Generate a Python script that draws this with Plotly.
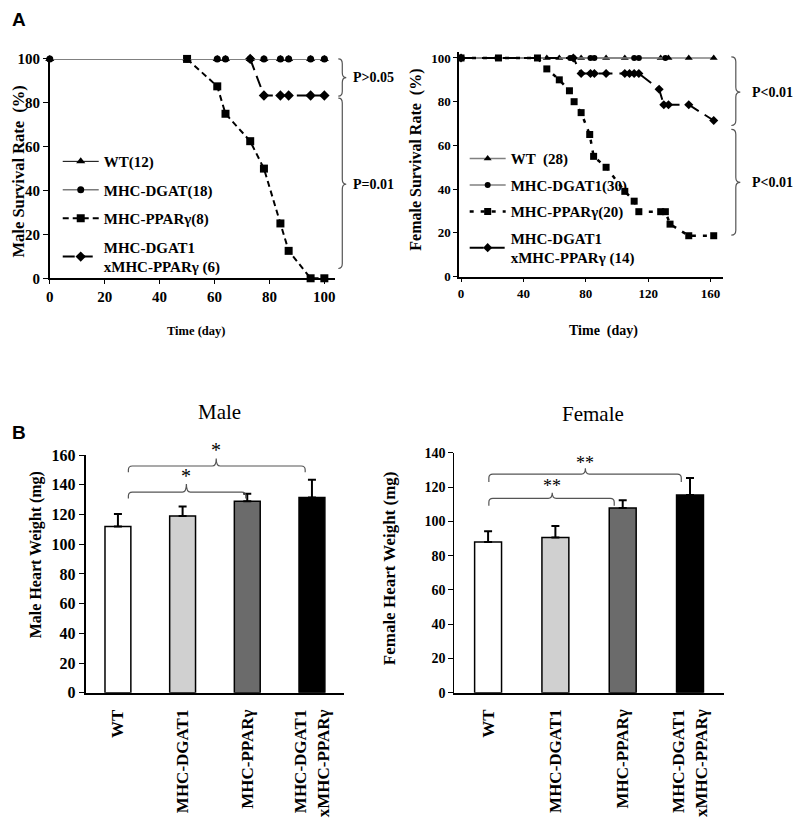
import plotly.graph_objects as go

# ---------------- DATA ----------------
# Panel A, male survival (%)
male_wt_days = [0, 50, 61, 64, 73, 78, 84, 87, 95, 100]
male_wt_surv = [100, 100, 100, 100, 100, 100, 100, 100, 100, 100]
male_dgat_days = [0, 50, 61, 64, 73, 78, 84, 87, 95, 100]
male_dgat_surv = [100, 100, 100, 100, 100, 100, 100, 100, 100, 100]
male_ppar_days = [50, 61, 64, 73, 78, 84, 87, 95, 100]
male_ppar_surv = [100, 87.5, 75, 62.5, 50, 25, 12.5, 0, 0]
male_dbl_days = [73, 78, 84, 87, 95, 100]
male_dbl_surv = [100, 83.3, 83.3, 83.3, 83.3, 83.3]

# Panel A, female survival (%)
fem_wt_days = [0, 55, 63, 77, 93, 105, 128, 133, 146, 162]
fem_wt_surv = [100, 100, 100, 100, 100, 100, 100, 100, 100, 100]
fem_dgat_days = [0, 70, 72, 83, 85.5, 111, 114, 131]
fem_dgat_surv = [100, 100, 100, 100, 100, 100, 100, 100]
fem_ppar_days = [0, 24, 49, 55, 63, 69.5, 72.5, 77, 82.5, 85, 93, 105, 111, 114, 128, 131, 134, 146, 162]
fem_ppar_surv = [100, 100, 100, 95, 90, 85, 80, 75, 65, 55, 50, 39, 34.5, 29.7, 29.7, 29.7, 24, 18.7, 18.7]
fem_dbl_days = [0, 72, 77, 83, 85.5, 93, 105, 108, 111, 114, 127, 130, 133, 146, 162]
fem_dbl_surv = [100, 100, 92.9, 92.9, 92.9, 92.9, 92.9, 92.9, 92.9, 92.9, 85.7, 78.6, 78.6, 78.6, 71.4]

# Legend names
male_names = ["WT(12)", "MHC-DGAT(18)", "MHC-PPARγ(8)", "MHC-DGAT1<br>xMHC-PPARγ (6)"]
fem_names = ["WT  (28)", "MHC-DGAT1(30)", "MHC-PPARγ(20)", "MHC-DGAT1<br>xMHC-PPARγ (14)"]

# Panel B, heart weight (mg)
groups = ["WT", "MHC-DGAT1", "MHC-PPARγ", "MHC-DGAT1<br>xMHC-PPARγ"]
male_hw = [112, 119, 129, 131.5]
male_hw_err = [8.3, 6.5, 5, 12]
fem_hw = [88, 90.6, 107.8, 115.4]
fem_hw_err = [6.3, 6.7, 4.6, 10]

surv_x_ticks_m = [0, 20, 40, 60, 80, 100]
surv_x_ticks_f = [0, 40, 80, 120, 160]
surv_y_ticks = [0, 20, 40, 60, 80, 100]

# ---------------- LAYOUT HELPERS ----------------
W, H = 797, 820
SERIF = "Liberation Serif"


def fx(x):
    return x / W


def fy(y):
    return 1 - y / H


def vbrace(x, ytop, ybot, ytip, w):
    """Vertical curly brace '}' in pixel coords -> paper path."""
    r = min(5, (ybot - ytop) / 6)
    m = x + w / 2
    pts = [
        f"M{fx(x)},{fy(ytop)}",
        f"Q{fx(m)},{fy(ytop)} {fx(m)},{fy(ytop + r)}",
        f"L{fx(m)},{fy(ytip - r)}",
        f"Q{fx(m)},{fy(ytip)} {fx(x + w)},{fy(ytip)}",
        f"Q{fx(m)},{fy(ytip)} {fx(m)},{fy(ytip + r)}",
        f"L{fx(m)},{fy(ybot - r)}",
        f"Q{fx(m)},{fy(ybot)} {fx(x)},{fy(ybot)}",
    ]
    return " ".join(pts)


def hbrace(x1, x2, y, yend, xm, ytip):
    """Horizontal bracket with upward tip, pixel coords -> paper path."""
    r = 4
    pts = [
        f"M{fx(x1)},{fy(yend)}",
        f"L{fx(x1)},{fy(y + r)}",
        f"Q{fx(x1)},{fy(y)} {fx(x1 + r)},{fy(y)}",
        f"L{fx(xm - r)},{fy(y)}",
        f"Q{fx(xm)},{fy(y)} {fx(xm)},{fy(ytip)}",
        f"Q{fx(xm)},{fy(y)} {fx(xm + r)},{fy(y)}",
        f"L{fx(x2 - r)},{fy(y)}",
        f"Q{fx(x2)},{fy(y)} {fx(x2)},{fy(y + r)}",
        f"L{fx(x2)},{fy(yend)}",
    ]
    return " ".join(pts)


fig = go.Figure()

# ---------------- MALE SURVIVAL ----------------
fig.add_trace(go.Scatter(
    x=male_ppar_days, y=male_ppar_surv, name=male_names[2], mode="lines+markers",
    line=dict(color="black", width=2, dash="6px,4px"),
    marker=dict(symbol="square", size=8, color="black"),
    xaxis="x", yaxis="y", legend="legend", legendrank=3, legendgroup="m3", cliponaxis=False))
fig.add_trace(go.Scatter(
    x=male_dbl_days, y=male_dbl_surv, name=male_names[3], mode="lines+markers",
    line=dict(color="black", width=2, dash="12px,6px"),
    marker=dict(symbol="diamond", size=8, color="black"),
    xaxis="x", yaxis="y", legend="legend", legendrank=4, legendgroup="m4", cliponaxis=False))
fig.add_trace(go.Scatter(
    x=male_wt_days, y=male_wt_surv, name=male_names[0], mode="lines+markers",
    line=dict(color="black", width=1),
    marker=dict(symbol="triangle-up", size=8, color="black"),
    xaxis="x", yaxis="y", legend="legend", legendrank=1, legendgroup="m1", cliponaxis=False))
fig.add_trace(go.Scatter(
    x=male_dgat_days, y=male_dgat_surv, name=male_names[1], mode="lines+markers",
    line=dict(color="#7a7a7a", width=1.5),
    marker=dict(symbol="circle", size=7, color="black"),
    xaxis="x", yaxis="y", legend="legend", legendrank=2, legendgroup="m2", cliponaxis=False))

# ---------------- FEMALE SURVIVAL ----------------
fig.add_trace(go.Scatter(
    x=fem_wt_days, y=fem_wt_surv, name=fem_names[0], mode="lines+markers",
    line=dict(color="#808080", width=1.5),
    marker=dict(symbol="triangle-up", size=7, color="black"),
    xaxis="x2", yaxis="y2", legend="legend2", legendrank=1, legendgroup="f1", cliponaxis=False))
fig.add_trace(go.Scatter(
    x=fem_dgat_days, y=fem_dgat_surv, name=fem_names[1], mode="lines+markers",
    line=dict(color="#808080", width=1.5),
    marker=dict(symbol="circle", size=6, color="black"),
    xaxis="x2", yaxis="y2", legend="legend2", legendrank=2, legendgroup="f2", cliponaxis=False))
fig.add_trace(go.Scatter(
    x=fem_ppar_days, y=fem_ppar_surv, name=fem_names[2], mode="lines+markers",
    line=dict(color="black", width=2.5, dash="4px,7px"),
    marker=dict(symbol="square", size=7, color="black"),
    xaxis="x2", yaxis="y2", legend="legend2", legendrank=3, legendgroup="f3", cliponaxis=False))
fig.add_trace(go.Scatter(
    x=fem_dbl_days, y=fem_dbl_surv, name=fem_names[3], mode="lines+markers",
    line=dict(color="black", width=2, dash="14px,7px"),
    marker=dict(symbol="diamond", size=7, color="black"),
    xaxis="x2", yaxis="y2", legend="legend2", legendrank=4, legendgroup="f4", cliponaxis=False))

# ---------------- BAR CHARTS ----------------
bar_colors = ["white", "#d0d0d0", "#6b6b6b", "black"]
fig.add_trace(go.Bar(
    x=groups, y=male_hw, marker=dict(color=bar_colors, line=dict(color="black", width=1.5)),
    error_y=dict(type="data", array=male_hw_err, arrayminus=[0] * 4, symmetric=False,
                 color="black", thickness=2, width=4),
    xaxis="x3", yaxis="y3", showlegend=False))
fig.add_trace(go.Bar(
    x=groups, y=fem_hw, marker=dict(color=bar_colors, line=dict(color="black", width=1.5)),
    error_y=dict(type="data", array=fem_hw_err, arrayminus=[0] * 4, symmetric=False,
                 color="black", thickness=2, width=4),
    xaxis="x4", yaxis="y4", showlegend=False))

axis_common = dict(showgrid=False, zeroline=False, showline=True, linecolor="black",
                   ticks="outside", tickcolor="black", mirror=False)

fig.update_layout(
    width=W, height=H, margin=dict(l=0, r=0, t=0, b=0),
    paper_bgcolor="white", plot_bgcolor="white",
    bargap=0.6,
    xaxis=dict(domain=[fx(46), fx(333)], range=[0, 104], tickvals=surv_x_ticks_m,
               linewidth=1.5, ticklen=4, anchor="y",
               tickfont=dict(family=SERIF, size=15, color="black", weight="bold"), **axis_common),
    yaxis=dict(domain=[fy(276), fy(52)], range=[0, 100], tickvals=surv_y_ticks,
               linewidth=1.5, ticklen=5, anchor="x",
               tickfont=dict(family=SERIF, size=15, color="black", weight="bold"), **axis_common),
    xaxis2=dict(domain=[fx(457.3), fx(722.7)], range=[-1.3, 168], tickvals=surv_x_ticks_f,
                linewidth=1.5, ticklen=4, anchor="y2",
                tickfont=dict(family=SERIF, size=13, color="black", weight="bold"), **axis_common),
    yaxis2=dict(domain=[fy(274.3), fy(45)], range=[0, 102.7], tickvals=surv_y_ticks,
                linewidth=1.5, ticklen=4, anchor="x2",
                tickfont=dict(family=SERIF, size=13, color="black", weight="bold"), **axis_common),
    xaxis3=dict(domain=[fx(82), fx(342)], range=[-0.5, 3.5], anchor="y3",
                showgrid=False, zeroline=False, showline=True, linecolor="black", linewidth=2,
                ticks="", tickangle=-90, ticklabelstandoff=8,
                tickfont=dict(family=SERIF, size=17, color="black", weight="bold")),
    yaxis3=dict(domain=[fy(699.3), fy(456.6)], range=[0, 160], dtick=20, anchor="x3",
                linewidth=2, ticklen=5,
                tickfont=dict(family=SERIF, size=16, color="black", weight="bold"), **axis_common),
    xaxis4=dict(domain=[fx(452.7), fx(723.3)], range=[-0.5, 3.5], anchor="y4",
                showgrid=False, zeroline=False, showline=True, linecolor="black", linewidth=1.5,
                ticks="", tickangle=-90, ticklabelstandoff=8,
                tickfont=dict(family=SERIF, size=17, color="black", weight="bold")),
    yaxis4=dict(domain=[fy(699.3), fy(454.3)], range=[0, 140], dtick=20, anchor="x4",
                linewidth=1.2, ticklen=5,
                tickfont=dict(family=SERIF, size=14, color="black", weight="bold"), **axis_common),
    legend=dict(x=fx(54), y=fy(140), xanchor="left", yanchor="top", bgcolor="rgba(0,0,0,0)",
                tracegroupgap=6, traceorder="grouped", itemwidth=36,
                font=dict(family=SERIF, size=15, color="black", weight="bold")),
    legend2=dict(x=fx(463), y=fy(137), xanchor="left", yanchor="top", bgcolor="rgba(0,0,0,0)",
                 tracegroupgap=4, traceorder="grouped", itemwidth=36,
                 font=dict(family=SERIF, size=15, color="black", weight="bold")),
)

# ---------------- ANNOTATIONS ----------------
def ann(text, x, y, size, family=SERIF, bold=True, angle=0, color="black"):
    fig.add_annotation(text=f"<b>{text}</b>" if bold else text, x=fx(x), y=fy(y),
                       xref="paper", yref="paper", showarrow=False, textangle=angle,
                       xanchor="center", yanchor="middle",
                       font=dict(family=family, size=size, color=color))


ann("A", 15, 12, 19, family="Liberation Sans")
ann("B", 15, 433, 19, family="Liberation Sans")
ann("Male Survival Rate  (%)", 15, 167, 16.5, angle=-90)
ann("Female Survival Rate  (%)", 414, 155, 16, angle=-90)
ann("Time (day)", 193, 330, 12.5)
ann("Time  (day)", 603, 330, 14)
ann("P&gt;0.05", 371, 71, 14)
ann("P=0.01", 371, 180, 14)
ann("P&lt;0.01", 772, 86, 14)
ann("P&lt;0.01", 772, 178, 14)
ann("Male", 217, 413, 21, bold=False)
ann("Female", 592, 415, 21, bold=False)
ann("Male Heart Weight (mg)", 33, 558, 16, angle=-90)
ann("Female Heart Weight (mg)", 387, 572, 17, angle=-90)
ann("*", 183, 478, 20, bold=False)
ann("*", 213, 451, 20, bold=False)
ann("**", 551, 488, 18, bold=False)
ann("**", 584, 465, 18, bold=False)

brace_style = dict(color="#555555", width=1.2)
shapes = [
    dict(type="path", xref="paper", yref="paper", path=vbrace(336, 52, 90, 71, 8), line=brace_style),
    dict(type="path", xref="paper", yref="paper", path=vbrace(336, 92, 266, 180, 8), line=brace_style),
    dict(type="path", xref="paper", yref="paper", path=vbrace(731, 50, 120, 86, 9), line=brace_style),
    dict(type="path", xref="paper", yref="paper", path=vbrace(731, 124, 232, 178, 9), line=brace_style),
    dict(type="path", xref="paper", yref="paper", path=hbrace(125, 243, 494.3, 501, 183.3, 486), line=brace_style),
    dict(type="path", xref="paper", yref="paper", path=hbrace(125, 302.7, 467.7, 474, 213.3, 460), line=brace_style),
    dict(type="path", xref="paper", yref="paper", path=hbrace(487.3, 613.3, 500.7, 508.3, 551, 495), line=brace_style),
    dict(type="path", xref="paper", yref="paper", path=hbrace(487.3, 680.7, 476, 484, 584.3, 470), line=brace_style),
]
fig.update_layout(shapes=shapes)

fig.write_html("out.html", config={"displayModeBar": False},
               post_script="document.body.style.margin='0';")
